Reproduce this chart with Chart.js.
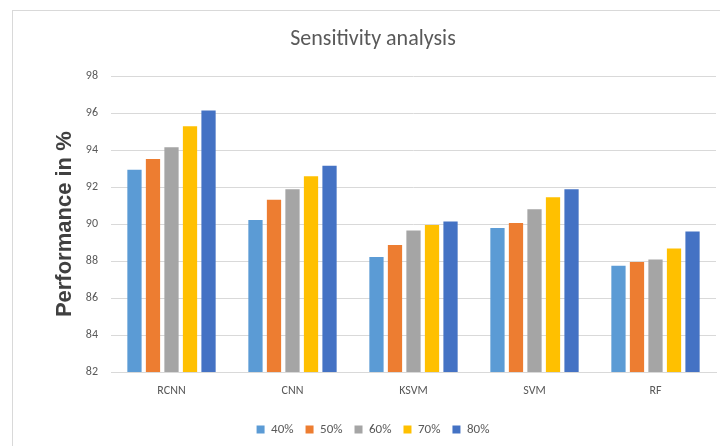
<!DOCTYPE html>
<html>
<head>
<meta charset="utf-8">
<script src="https://cdn.jsdelivr.net/npm/chart.js@4"></script>
<style>
  html, body { margin: 0; padding: 0; background: #fff; overflow: hidden; }
  #wrap { position: relative; width: 746px; height: 446px; }
  #frame { position: absolute; left: 12px; top: 10px; width: 760px; height: 460px;
           border-left: 1px solid #d9d9d9; border-top: 1px solid #d9d9d9; }
  canvas { position: absolute; left: 0; top: 0; }
</style>
</head>
<body>
<div id="wrap">
  <div id="frame"></div>
  <canvas id="chart" width="746" height="446"></canvas>
</div>
<script>
    const categories = ['RCNN', 'CNN', 'KSVM', 'SVM', 'RF'];
    const seriesNames = ['40%', '50%', '60%', '70%', '80%'];
    const values40 = [92.95, 90.23, 88.23, 89.80, 87.75];
    const values50 = [93.53, 91.33, 88.88, 90.07, 87.96];
    const values60 = [94.16, 91.89, 89.66, 90.81, 88.09];
    const values70 = [95.30, 92.59, 89.96, 91.46, 88.68];
    const values80 = [96.16, 93.17, 90.14, 91.89, 89.60];
    const yTicks = [82, 84, 86, 88, 90, 92, 94, 96, 98];

    const colors = ['#5B9BD5', '#ED7D31', '#A5A5A5', '#FFC000', '#4472C4'];
    const allValues = [values40, values50, values60, values70, values80];

    const ctx = document.getElementById('chart').getContext('2d');
    const textColor = '#595959';
    const font = 'Calibri, Carlito, "Open Sans", sans-serif';

    const chart = new Chart(ctx, {
        type: 'bar',
        data: {
            labels: categories,
            datasets: seriesNames.map((name, i) => ({
                label: name,
                data: allValues[i],
                backgroundColor: colors[i],
                borderWidth: 0,
                categoryPercentage: 0.765,
                barPercentage: 0.77
            }))
        },
        options: {
            responsive: false,
            animation: false,
            layout: { padding: { left: 30, right: 30, top: 26, bottom: 0 } },
            plugins: {
                title: {
                    display: true,
                    text: 'Sensitivity analysis',
                    color: textColor,
                    font: { family: font, size: 22, weight: 'normal' },
                    padding: { top: 0, bottom: 24 }
                },
                legend: {
                    position: 'bottom',
                    labels: {
                        color: textColor,
                        font: { family: font, size: 13 },
                        boxWidth: 8,
                        boxHeight: 8,
                        padding: 12
                    }
                },
                tooltip: { enabled: false }
            },
            scales: {
                x: {
                    grid: { display: false, drawTicks: false },
                    border: { color: '#d9d9d9' },
                    ticks: { color: textColor, font: { family: font, size: 12 }, padding: 12 },
                    afterFit: (scale) => { scale.height = 39; }
                },
                y: {
                    min: 82,
                    max: 98,
                    afterBuildTicks: (scale) => { scale.ticks = yTicks.map(v => ({ value: v })); },
                    grid: { color: '#d9d9d9', drawTicks: false },
                    border: { display: false },
                    ticks: { color: textColor, font: { family: font, size: 12 }, padding: 13 },
                    title: {
                        display: true,
                        text: 'Performance in %',
                        color: '#404040',
                        font: { family: '"Liberation Sans", Arial, sans-serif', size: 22, weight: 'bold' },
                        padding: { top: 22, bottom: 0 }
                    },
                    afterFit: (scale) => { scale.width = 81; }
                }
            }
        }
    });
</script>
</body>
</html>
